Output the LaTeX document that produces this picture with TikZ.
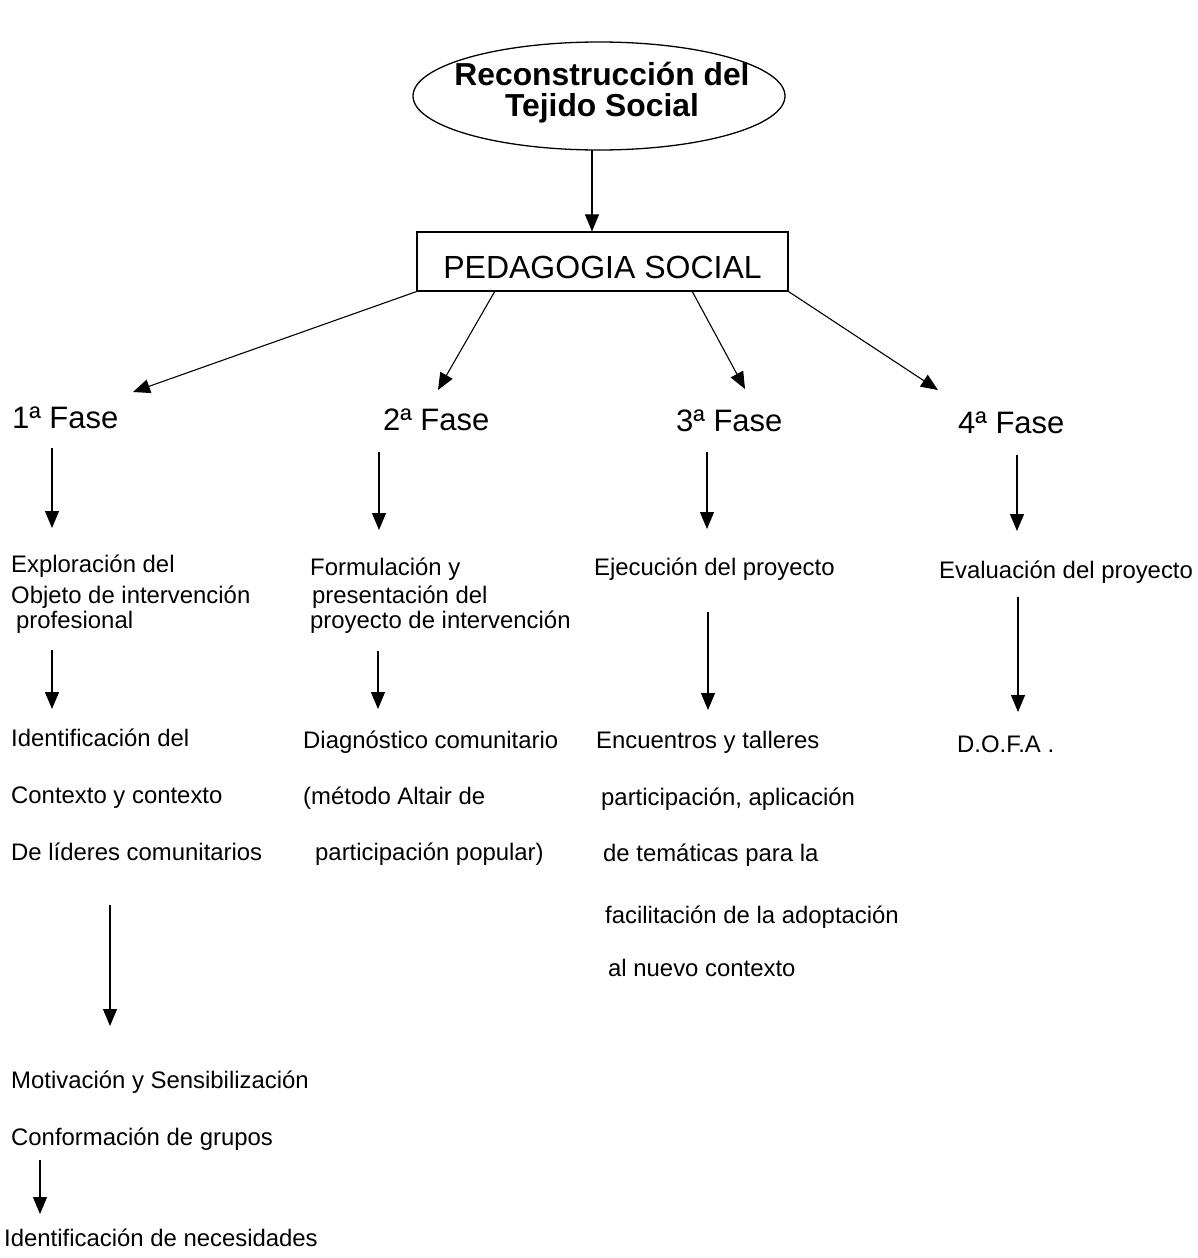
\documentclass[tikz,border=0pt]{standalone}
\usepackage{fontspec}
\setmainfont{Liberation Sans}
\usetikzlibrary{shapes.geometric,arrows.meta}
\begin{document}
\begin{tikzpicture}[x=1pt,y=-1pt,
  arr/.style={-{Triangle[length=17pt,width=14pt]},line width=1.1pt},
  sm/.style={font=\fontsize{23.9}{27}\selectfont,inner sep=0pt,anchor=base west},
  fase/.style={font=\fontsize{31}{34}\selectfont,inner sep=0pt,anchor=base west}]
\useasboundingbox (0,0) rectangle (1198,1258);
% top ellipse
\node[ellipse,draw,line width=1.3pt,minimum width=372pt,minimum height=108pt,inner sep=0pt] (top) at (599,96) {};
\node[font=\bfseries\fontsize{31.8}{32}\selectfont,inner sep=0pt,anchor=base] (t1) at (602,85) {Reconstrucción del};
\node[font=\bfseries\fontsize{31.8}{32}\selectfont,inner sep=0pt,anchor=base] (t2) at (602,116) {Tejido Social};
% box
\node[draw,line width=1.2pt,minimum width=371pt,minimum height=59pt,inner sep=0pt] (ped) at (602.5,261.5) {};
\node[font=\fontsize{32}{33}\selectfont,inner sep=0pt,anchor=base] (pedt) at (602.5,278) {PEDAGOGIA SOCIAL};
% phases
\node[fase] (f1) at (12,428) {1ª Fase};
\node[fase] (f2) at (383,430) {2ª Fase};
\node[fase] (f3) at (676,431) {3ª Fase};
\node[fase] (f4) at (958,433) {4ª Fase};
% column 1
\node[sm] (a1) at (11,572) {Exploración del};
\node[sm] (a2) at (11,603) {Objeto de intervención};
\node[sm] (a3) at (16,628) {profesional};
\node[sm] (a4) at (11,746) {Identificación del};
\node[sm] (a5) at (11,803) {Contexto y contexto};
\node[sm] (a6) at (11,860) {De líderes comunitarios};
\node[sm] (a7) at (11,1088) {Motivación y Sensibilización};
\node[sm] (a8) at (11,1145) {Conformación de grupos};
\node[sm] (a9) at (4,1246) {Identificación de necesidades};
% column 2
\node[sm] (b1) at (310,575) {Formulación y};
\node[sm] (b2) at (312,603) {presentación del};
\node[sm] (b3) at (310,628) {proyecto de intervención};
\node[sm] (b4) at (303,748) {Diagnóstico comunitario};
\node[sm] (b5) at (303,804) {(método Altair de};
\node[sm] (b6) at (315,860) {participación popular)};
% column 3
\node[sm] (c1) at (594,575) {Ejecución del proyecto};
\node[sm] (c2) at (596,748) {Encuentros y talleres};
\node[sm] (c3) at (601,805) {participación, aplicación};
\node[sm] (c4) at (603,861) {de temáticas para la};
\node[sm] (c5) at (605,923) {facilitación de la adoptación};
\node[sm] (c6) at (608,976) {al nuevo contexto};
% column 4
\node[sm] (d1) at (939,578) {Evaluación del proyecto};
\node[sm] (d2) at (957,752) {D.O.F.A .};
% connector end points
\coordinate (pa) at (592,150);
\coordinate (p2s) at (495,291);
\coordinate (p3s) at (692,291);
\coordinate (e1) at (133,392);
\coordinate (e2) at (438,390);
\coordinate (e3) at (745,389);
\coordinate (e4) at (938,390);
\coordinate (v1a) at (52,448);  \coordinate (v1b) at (52,528);
\coordinate (v2a) at (379,452); \coordinate (v2b) at (379,530);
\coordinate (v3a) at (707,452); \coordinate (v3b) at (707,529);
\coordinate (v4a) at (1017,455);\coordinate (v4b) at (1017,531);
\coordinate (w1a) at (52,650);  \coordinate (w1b) at (52,709);
\coordinate (w2a) at (378,651); \coordinate (w2b) at (378,709);
\coordinate (w3a) at (708,612); \coordinate (w3b) at (708,710);
\coordinate (w4a) at (1018,597);\coordinate (w4b) at (1018,712);
\coordinate (x1a) at (110,905); \coordinate (x1b) at (110,1026);
\coordinate (y1a) at (40,1160); \coordinate (y1b) at (40,1214);
% connectors
\draw[arr] (pa) -- (pa |- ped.north);
\draw[arr] (ped.south west) -- (e1);
\draw[arr] (p2s) -- (e2);
\draw[arr] (p3s) -- (e3);
\draw[arr] (ped.south east) -- (e4);
\draw[arr] (v1a) -- (v1b);
\draw[arr] (v2a) -- (v2b);
\draw[arr] (v3a) -- (v3b);
\draw[arr] (v4a) -- (v4b);
\draw[arr] (w1a) -- (w1b);
\draw[arr] (w2a) -- (w2b);
\draw[arr] (w3a) -- (w3b);
\draw[arr] (w4a) -- (w4b);
\draw[arr] (x1a) -- (x1b);
\draw[arr] (y1a) -- (y1b);
\end{tikzpicture}
\end{document}
